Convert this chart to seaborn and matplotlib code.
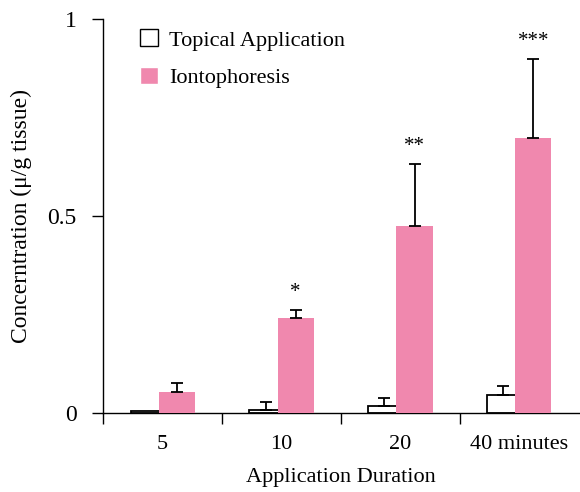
import pandas as pd
import matplotlib
matplotlib.use("Agg")
import matplotlib.pyplot as plt
import seaborn as sns

durations = ["5", "10", "20", "40 minutes"]
groups = ["Topical Application", "Iontophoresis"]
topical_mean = [0.004, 0.006, 0.016, 0.044]
topical_err = [0.0, 0.021, 0.021, 0.023]
ionto_mean = [0.054, 0.241, 0.475, 0.698]
ionto_err = [0.021, 0.020, 0.157, 0.202]
stars = ["", "*", "**", "***"]

df = pd.DataFrame({
    "duration": durations * 2,
    "group": [groups[0]] * 4 + [groups[1]] * 4,
    "value": topical_mean + ionto_mean,
})

sns.set_style("white")
plt.rcParams["font.family"] = ["Liberation Serif", "DejaVu Serif"]
for key in ["text.color", "axes.labelcolor", "xtick.color", "ytick.color"]:
    plt.rcParams[key] = "black"

fig = plt.figure(figsize=(5.8, 4.92), dpi=100)
ax = fig.add_axes([0.178, 0.161, 0.82, 0.8])

pink = "#F088AE"
sns.barplot(data=df, x="duration", y="value", hue="group", order=durations,
            hue_order=groups, palette=["white", pink], width=0.54,
            saturation=1, errorbar=None, ax=ax, legend=True)

n = len(durations)
bars = ax.patches[:2 * n]
grow = 0.034  # pink bars slightly wider, overlapping the white ones
for i, b in enumerate(bars):
    if i < n:
        b.set_edgecolor("black")
        b.set_linewidth(1.3)
        b.set_zorder(2)
    else:
        b.set_linewidth(0)
        b.set_x(b.get_x() - grow)
        b.set_width(b.get_width() + grow)
        b.set_zorder(3)

means = topical_mean + ionto_mean
errs = topical_err + ionto_err
for b, m, e in zip(bars, means, errs):
    if e <= 0:
        continue
    xc = b.get_x() + b.get_width() / 2
    ax.errorbar(xc, m, yerr=[[0], [e]], fmt="none", ecolor="black",
                elinewidth=1.3, capsize=4, capthick=1.3, zorder=4)

for i, s in enumerate(stars):
    if s:
        b = bars[n + i]
        xc = b.get_x() + b.get_width() / 2
        ax.text(xc, ionto_mean[i] + ionto_err[i] + 0.02, s, ha="center",
                va="bottom", fontsize=15)

ax.set_xlim(-0.5, 3.5)
ax.set_ylim(0, 1)
ax.set_yticks([0, 0.5, 1])
ax.set_yticklabels(["0", "0.5", "1"])
ax.set_xticks([-0.5, 0.5, 1.5, 2.5])
ax.set_xticklabels([])
ax.set_xticks(range(n), minor=True)
ax.set_xticklabels(durations, minor=True)
ax.tick_params(axis="x", which="minor", length=0, labelsize=16, pad=16)
ax.tick_params(axis="x", which="major", length=8, width=1, direction="out", bottom=True)
ax.tick_params(axis="y", length=8, width=1, direction="out", left=True, labelsize=17, pad=11)

for side in ["top", "right"]:
    ax.spines[side].set_visible(False)
for side in ["left", "bottom"]:
    ax.spines[side].set_color("black")
    ax.spines[side].set_linewidth(1)

ax.set_xlabel("Application Duration", fontsize=16, labelpad=10)
ax.set_ylabel("Concerntration (\u03bc/g tissue)", fontsize=17, labelpad=11)

handles, labels = ax.get_legend_handles_labels()
for h in handles:
    if h.get_facecolor()[0] == 1:
        h.set_edgecolor("black")
        h.set_linewidth(1)
ax.legend(handles, labels, loc="upper left", bbox_to_anchor=(0.035, 1.025),
          frameon=False, fontsize=16, handlelength=0.8, handleheight=0.8,
          labelspacing=0.75, handletextpad=0.5)

fig.savefig("out.png", dpi=100)
